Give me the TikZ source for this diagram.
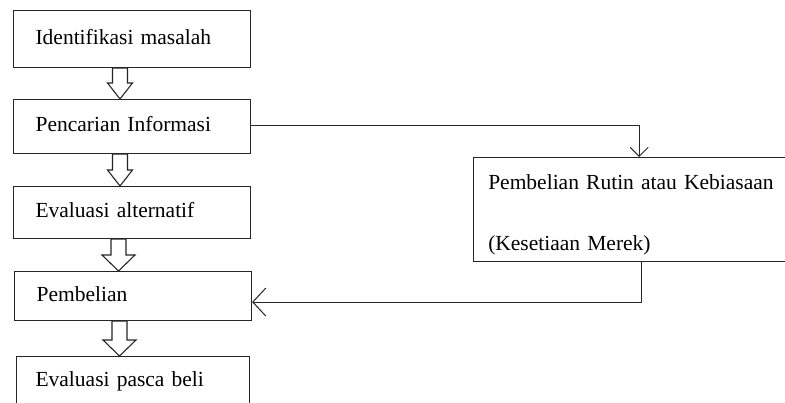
\documentclass[tikz,border=0pt]{standalone}
\usepackage{fontspec}
\setmainfont{Liberation Serif}
\usetikzlibrary{calc,arrows.meta}
\newcommand{\blkarrow}[4]{%
  \draw[blkline] let \p1=(#1.south), \p2=(#2.north) in
    ({(#3-7.5)*1pt},\y1) -- ({(#3+7.5)*1pt},\y1) -- ({(#3+7.5)*1pt},{\y2+16pt})
    -- ({(#3+#4)*1pt},{\y2+16pt}) -- ({#3*1pt},\y2) -- ({(#3-#4)*1pt},{\y2+16pt})
    -- ({(#3-7.5)*1pt},{\y2+16pt}) -- cycle;}
\begin{document}
\begin{tikzpicture}[x=1pt,y=-1pt,
  basebox/.style={draw=black!85,line width=1.1pt,rectangle,anchor=north west,
    inner xsep=22pt,inner ysep=0pt,text width=193pt,align=left,
    font=\fontsize{21.5pt}{26pt}\selectfont},
  box/.style={basebox,text depth=5pt},
  blkline/.style={draw=black!85,line width=1.1pt,fill=white,line join=miter},
  arr/.style={draw=black!85,line width=1pt}]
\useasboundingbox (0,0) rectangle (785,402);
\clip (0,0) rectangle (785,402);
\node[box,minimum height=57pt] (b1) at (13,10) {Identifikasi masalah};
\node[box,minimum height=54pt] (b2) at (13,99) {Pencarian Informasi};
\node[box,minimum height=52pt] (b3) at (13,186) {Evaluasi alternatif};
\node[box,minimum height=49pt] (b4) at (14,271) {Pembelian};
\node[basebox,minimum height=60pt,inner xsep=19pt,text width=195pt,text depth=16pt] (b5) at (16,356) {Evaluasi pasca beli};
\node[basebox,minimum height=103.7pt,inner xsep=15pt,text width=300pt,
  font=\fontsize{21.5pt}{61pt}\selectfont] (rb) at (472.7,157)
  {\rule{0pt}{26pt}Pembelian Rutin atau Kebiasaan\\(Kesetiaan Merek)};
\blkarrow{b1}{b2}{120}{12.5}
\blkarrow{b2}{b3}{120}{12.5}
\blkarrow{b3}{b4}{118.5}{16.5}
\blkarrow{b4}{b5}{119.5}{16.5}
\draw[arr,-{Straight Barb[length=9pt,width=18pt]}] ([yshift=1.5pt]b2.east) -| ([xshift=166.5pt]rb.north west);
\draw[arr,-{Straight Barb[length=13pt,width=28pt]}] ([xshift=169pt]rb.south west) |- ([yshift=-6pt]b4.east);
\end{tikzpicture}
\end{document}
